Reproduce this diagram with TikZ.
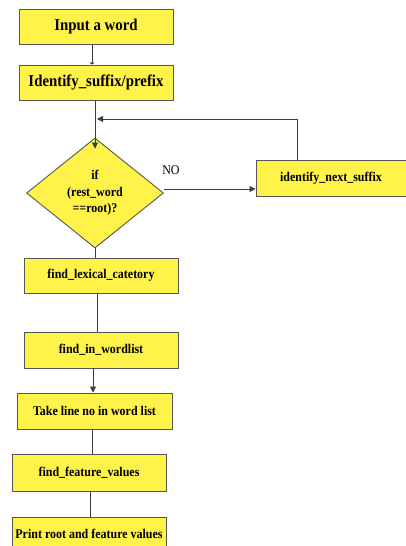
\documentclass[tikz,border=0pt]{standalone}
\usepackage{fontspec}
\setmainfont{Liberation Serif}
\newfontfamily\boxfont[FakeStretch=0.9]{Liberation Serif}
\usetikzlibrary{shapes.geometric,arrows.meta}
\definecolor{boxfill}{RGB}{255,242,72}
\definecolor{boxline}{RGB}{85,85,85}
\definecolor{wire}{RGB}{60,60,60}
\tikzset{
  procbox/.style={draw=boxline, fill=boxfill, line width=0.9pt, inner sep=0pt,
    font=\boxfont\bfseries\fontsize{13.3}{16.5}\selectfont},
  bigbox/.style={procbox, font=\boxfont\bfseries\fontsize{16.5}{18}\selectfont},
  decision/.style={draw=boxline, fill=boxfill, line width=0.9pt, diamond, aspect=1.25,
    inner sep=0pt, align=center, font=\boxfont\bfseries\fontsize{13.3}{16.5}\selectfont},
  wireline/.style={draw=wire, line width=0.8pt},
  arrowline/.style={wireline, -{Triangle[length=6pt,width=6pt]}},
  flag/.style={font=\boxfont\fontsize{13.3}{14}\selectfont}
}
\begin{document}
\begin{tikzpicture}[x=1pt,y=-1pt]
  \useasboundingbox (0,0) rectangle (406,546);
  % process boxes, sized as corner-to-corner rectangles
  \node[bigbox, minimum width=154pt, minimum height=35pt] (input) at (96,26.5) {Input a word};
  \node[bigbox, minimum width=154pt, minimum height=35pt] (ident) at (96,82.5) {Identify\_suffix/prefix};
  \node[decision, minimum width=137pt, minimum height=110pt] (test) at (95,193)
    {if\\(rest\_word\\==root)?};
  \node[procbox, minimum width=150pt, minimum height=36pt] (next) at (331,178) {identify\_next\_suffix};
  \node[procbox, minimum width=154pt, minimum height=35pt] (lex) at (101,275.5) {find\_lexical\_catetory};
  \node[procbox, minimum width=154pt, minimum height=36pt] (list) at (101,350) {find\_in\_wordlist};
  \node[procbox, minimum width=155pt, minimum height=36pt] (line) at (94.5,411) {Take line no in word list};
  \node[procbox, minimum width=154pt, minimum height=37pt] (feat) at (89,472.5) {find\_feature\_values};
  \node[procbox, minimum width=154pt, minimum height=40pt, anchor=north] (print) at (89,517) {};
  \node[font=\boxfont\bfseries\fontsize{13.3}{14}\selectfont] (printtxt) at (89,534) {Print root and feature values};

  % loop-back junction on the main flow
  \coordinate (join) at (97,119);

  % connectors
  \draw[wireline, -{Triangle[length=2pt,width=5pt]}] ([xshift=-4pt]input.south) -- ([xshift=-4pt]input.south |- ident.north);
  \draw[arrowline, shorten >=-11pt] ([xshift=-1pt]ident.south) -- (test.north);
  \draw[arrowline] ([yshift=4pt]test.east) -- ([yshift=4pt]test.east -| next.west);
  \node[flag] (no) at (171,170) {NO};
  \draw[arrowline] ([xshift=-34pt]next.north) |- (join);
  \draw[wireline] (test.south) -- (test.south |- lex.north);
  \draw[wireline] ([xshift=-4pt]lex.south) -- ([xshift=-4pt]lex.south |- list.north);
  \draw[arrowline] ([xshift=-8pt]list.south) -- ([xshift=-8pt]list.south |- line.north);
  \draw[wireline] ([xshift=-2pt]line.south) -- ([xshift=-2pt]line.south |- feat.north);
  \draw[wireline] ([xshift=1pt]feat.south) -- ([xshift=1pt]feat.south |- print.north);
\end{tikzpicture}
\end{document}
